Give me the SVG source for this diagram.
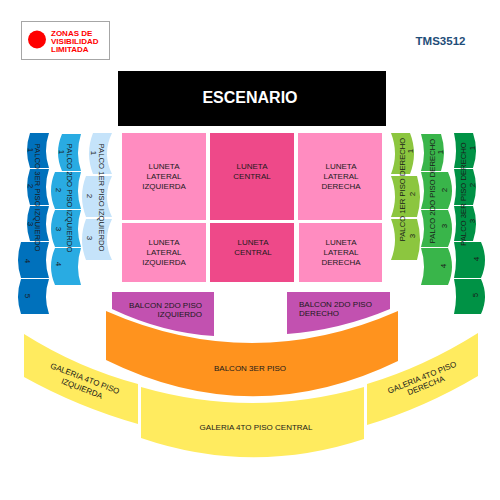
<svg xmlns="http://www.w3.org/2000/svg" width="500" height="500" viewBox="0 0 500 500">
<style>
text{font-family:"Liberation Sans",Arial,sans-serif;font-size:8px;fill:#1a1a1a;text-anchor:middle}
.l1{fill:#c5e3fa}.l2{fill:#29abe2}.l3{fill:#0071bc}
.r1{fill:#8cc63f}.r2{fill:#39b54a}.r3{fill:#009245}
.lat{fill:#ff8cc0}.cen{fill:#ee4989}.b2{fill:#c251b0}.b3{fill:#ff931e}.gal{fill:#ffeb5f}
.leg{font-weight:bold;fill:#ff0000;text-anchor:start;font-size:8px}
.v{font-size:7.700px}
</style>
<rect width="500" height="500" fill="#fff"/>
<g id="legend">
<rect x="21.5" y="21.5" width="88" height="38" fill="#fff" stroke="#a6a6a6"/>
<circle cx="37" cy="39.5" r="9" fill="#ff0000"/>
<text class="leg" x="51" y="36">ZONAS DE</text>
<text class="leg" x="51" y="44">VISIBILIDAD</text>
<text class="leg" x="51" y="51.500">LIMITADA</text>
</g>
<g id="code"><text x="440.500" y="45" style="font-size:11.500px;font-weight:bold;fill:#1f4e79">TMS3512</text></g>
<g id="escenario"><rect x="118" y="71" width="268" height="55" fill="#000"/><text x="250" y="103" style="font-size:16px;font-weight:bold;fill:#fff">ESCENARIO</text></g>
<g id="luneta-lateral-izquierda-1"><rect class="lat" x="122" y="133" width="84" height="87"/><text x="164" y="169">LUNETA</text><text x="164" y="179">LATERAL</text><text x="164" y="189">IZQUIERDA</text></g>
<g id="luneta-central-1"><rect class="cen" x="210" y="133" width="84" height="87"/><text x="252" y="169">LUNETA</text><text x="252" y="179">CENTRAL</text></g>
<g id="luneta-lateral-derecha-1"><rect class="lat" x="298" y="133" width="84" height="87"/><text x="341" y="169">LUNETA</text><text x="341" y="179">LATERAL</text><text x="341" y="189">DERECHA</text></g>
<g id="luneta-lateral-izquierda-2"><rect class="lat" x="122" y="223" width="84" height="59"/><text x="164" y="245">LUNETA</text><text x="164" y="255">LATERAL</text><text x="164" y="264.500">IZQUIERDA</text></g>
<g id="luneta-central-2"><rect class="cen" x="210" y="223" width="84" height="59"/><text x="253" y="245">LUNETA</text><text x="253" y="255">CENTRAL</text></g>
<g id="luneta-lateral-derecha-2"><rect class="lat" x="299" y="223" width="83" height="59"/><text x="341" y="245">LUNETA</text><text x="341" y="255">LATERAL</text><text x="341" y="264.500">DERECHA</text></g>
<g id="palco-1er-izquierdo">
<path class="l1" d="M93,133H112Q102,153.500 112,174H93Q85,153.500 93,133Z"/>
<path class="l1" d="M86,176H112Q102,196.500 112,217H86Q78,196.500 86,176Z"/>
<path class="l1" d="M86,219H112Q102,239.500 112,260H86Q78,239.500 86,219Z"/>
<text class="v" transform="translate(102 197.500) rotate(90)" y="3">PALCO 1ER PISO IZQUIERDO</text>
<text transform="translate(94 153) rotate(90)" y="3">1</text><text transform="translate(90 196) rotate(90)" y="3">2</text><text transform="translate(90 238) rotate(90)" y="3">3</text>
</g>
<g id="palco-2do-izquierdo">
<path class="l2" d="M62,134H81Q75,152.500 81,171H62Q54,152.500 62,134Z"/>
<path class="l2" d="M55,172H81Q75,190.500 81,209H55Q47,190.500 55,172Z"/>
<path class="l2" d="M55,210H81Q75,228.500 81,247H55Q47,228.500 55,210Z"/>
<path class="l2" d="M55,248H81Q75,266.500 81,285H55Q47,266.500 55,248Z"/>
<text class="v" transform="translate(70 198) rotate(90)" y="3">PALCO 2DO PISO IZQUIERDO</text>
<text transform="translate(62 152) rotate(90)" y="3">1</text><text transform="translate(59 190) rotate(90)" y="3">2</text><text transform="translate(59 229) rotate(90)" y="3">3</text><text transform="translate(59 264) rotate(90)" y="3">4</text>
</g>
<g id="palco-3er-izquierdo">
<path class="l3" d="M30,133H49Q43,150.500 49,168H30Q24,150.500 30,133Z"/>
<path class="l3" d="M30,169H49Q43,187 49,205H30Q24,187 30,169Z"/>
<path class="l3" d="M30,206H49Q43,223.500 49,241H30Q24,223.500 30,206Z"/>
<path class="l3" d="M21,242H49Q43,260 49,278H21Q15,260 21,242Z"/>
<path class="l3" d="M21,279H49Q43,296.500 49,314H21Q15,296.500 21,279Z"/>
<text class="v" transform="translate(38 197.500) rotate(90)" y="3">PALCO 3ER PISO IZQUIERDO</text>
<text transform="translate(31 150) rotate(90)" y="3">1</text><text transform="translate(31 186) rotate(90)" y="3">2</text><text transform="translate(31 224) rotate(90)" y="3">3</text><text transform="translate(28 261) rotate(90)" y="3">4</text><text transform="translate(28 296) rotate(90)" y="3">5</text>
</g>
<g id="palco-1er-derecho">
<path class="r1" d="M391,133H410Q418,153.500 410,174H391Q399,153.500 391,133Z"/>
<path class="r1" d="M391,176H417Q423,196.500 417,217H391Q399,196.500 391,176Z"/>
<path class="r1" d="M391,219H417Q423,239.500 417,260H391Q399,239.500 391,219Z"/>
<text class="v" transform="translate(402 189.500) rotate(-90)" y="3">PALCO 1ER PISO DERECHO</text>
<text transform="translate(410 151) rotate(-90)" y="3">1</text><text transform="translate(412 194) rotate(-90)" y="3">2</text><text transform="translate(412 236) rotate(-90)" y="3">3</text>
</g>
<g id="palco-2do-derecho">
<path class="r2" d="M421,134H441Q447,152.500 441,171H421Q427,152.500 421,134Z"/>
<path class="r2" d="M421,172H448Q456,190.500 448,209H421Q427,190.500 421,172Z"/>
<path class="r2" d="M421,210H448Q456,228.500 448,247H421Q427,228.500 421,210Z"/>
<path class="r2" d="M421,248H448Q456,266.500 448,285H421Q427,266.500 421,248Z"/>
<text class="v" transform="translate(432 191) rotate(-90)" y="3">PALCO 2DO PISO DERECHO</text>
<text transform="translate(440 152) rotate(-90)" y="3">1</text><text transform="translate(444 190) rotate(-90)" y="3">2</text><text transform="translate(444 226) rotate(-90)" y="3">3</text><text transform="translate(443 266) rotate(-90)" y="3">4</text>
</g>
<g id="palco-3er-derecho">
<path class="r3" d="M454,133H473Q479,150.500 473,168H454Q458,150.500 454,133Z"/>
<path class="r3" d="M454,169H473Q479,187 473,205H454Q458,187 454,169Z"/>
<path class="r3" d="M454,206H473Q479,223.500 473,241H454Q458,223.500 454,206Z"/>
<path class="r3" d="M454,242H481Q489,260 481,278H454Q458,260 454,242Z"/>
<path class="r3" d="M454,279H481Q489,296.500 481,314H454Q458,296.500 454,279Z"/>
<text class="v" transform="translate(463 194) rotate(-90)" y="3">PALCO 3ER PISO DERECHO</text>
<text transform="translate(472 148) rotate(-90)" y="3">1</text><text transform="translate(472 185) rotate(-90)" y="3">2</text><text transform="translate(472 221) rotate(-90)" y="3">3</text><text transform="translate(476 259) rotate(-90)" y="3">4</text><text transform="translate(475 295) rotate(-90)" y="3">5</text>
</g>
<g id="balcon-2do-izquierdo"><path class="b2" d="M112,292H214V336Q163,333 112,309Z"/><text x="202" y="308" style="text-anchor:end">BALCON 2DO PISO</text><text x="202" y="317" style="text-anchor:end">IZQUIERDO</text></g>
<g id="balcon-2do-derecho"><path class="b2" d="M287,292H390V309Q340,330 287,334Z"/><text x="299" y="307" style="text-anchor:start">BALCON 2DO PISO</text><text x="299" y="316" style="text-anchor:start">DERECHO</text></g>
<g id="balcon-3er"><path class="b3" d="M106,311Q252,375 398,311V361Q252,432 106,360Z"/><text x="250" y="371">BALCON 3ER PISO</text></g>
<g id="galeria-izquierda"><path class="gal" d="M24,334Q78,368 138,384V424Q78,407 24,377Z"/><text transform="translate(84 381) rotate(21)">GALERIA 4TO PISO</text><text transform="translate(81 391) rotate(21)">IZQUIERDA</text></g>
<g id="galeria-central"><path class="gal" d="M141,387Q252,419 364,387V439Q252,476 141,438Z"/><text x="256" y="430">GALERIA 4TO PISO CENTRAL</text></g>
<g id="galeria-derecha"><path class="gal" d="M367,384Q424,367 478,333V376Q424,408 367,425Z"/><text transform="translate(423 380) rotate(-22)">GALERIA 4TO PISO</text><text transform="translate(427 388) rotate(-22)">DERECHA</text></g>
<g id="connectors"/>
</svg>
